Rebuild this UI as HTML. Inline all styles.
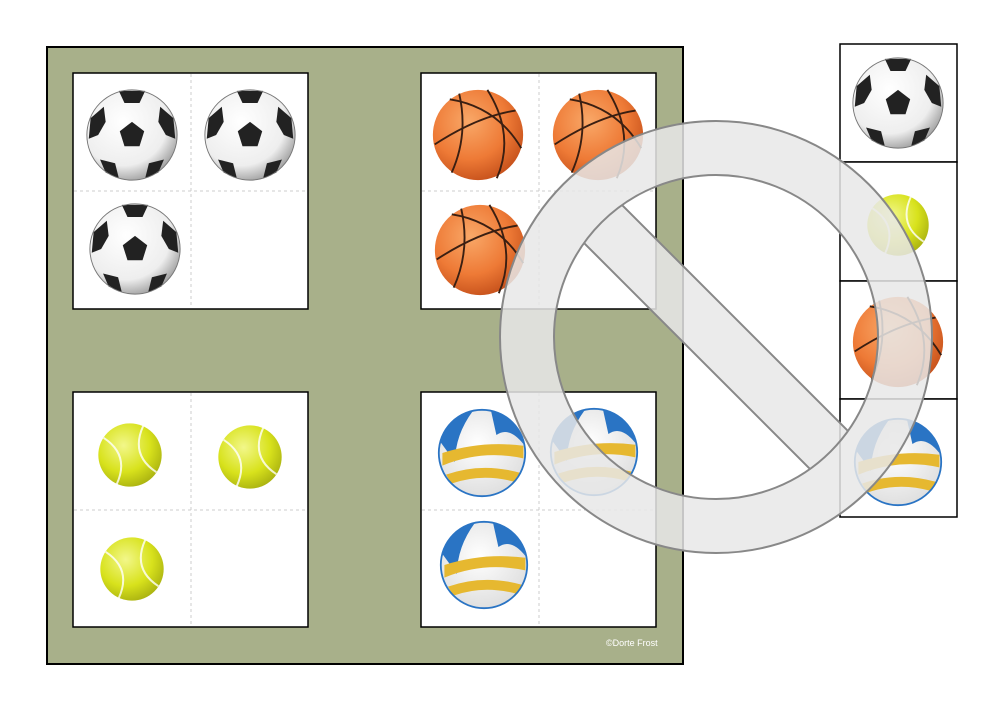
<!DOCTYPE html>
<html><head><meta charset="utf-8"><style>
html,body{margin:0;padding:0;background:#fff;width:1000px;height:707px;overflow:hidden;font-family:"Liberation Sans",sans-serif}
</style></head><body>
<svg width="1000" height="707" viewBox="0 0 1000 707" xmlns="http://www.w3.org/2000/svg">
<defs>
<radialGradient id="sg" cx="0.4" cy="0.35" r="0.7"><stop offset="0" stop-color="#fff"/><stop offset="0.7" stop-color="#eee"/><stop offset="1" stop-color="#999"/></radialGradient>
<radialGradient id="bg" cx="0.4" cy="0.35" r="0.7"><stop offset="0" stop-color="#f9a868"/><stop offset="0.6" stop-color="#ee7a36"/><stop offset="1" stop-color="#c44f1a"/></radialGradient>
<radialGradient id="tg" cx="0.4" cy="0.35" r="0.7"><stop offset="0" stop-color="#f2f78a"/><stop offset="0.6" stop-color="#d8e21c"/><stop offset="1" stop-color="#a8b010"/></radialGradient>
<radialGradient id="vg" cx="0.45" cy="0.4" r="0.65"><stop offset="0" stop-color="#fff"/><stop offset="1" stop-color="#ddd"/></radialGradient>
<symbol id="soccer" viewBox="-50 -50 100 100">
<circle r="48" fill="url(#sg)"/>
<polygon points="0,-14 13,-4 8,12 -8,12 -13,-4" fill="#222"/>
<polygon points="-14,-47 14,-47 8,-34 -8,-34" fill="#222"/>
<polygon points="30,-30 44,-18 46,4 36,0 28,-14" fill="#222"/>
<polygon points="-30,-30 -44,-18 -46,4 -36,0 -28,-14" fill="#222"/>
<polygon points="18,30 34,26 28,40 14,46" fill="#222"/>
<polygon points="-18,30 -34,26 -28,40 -14,46" fill="#222"/>
<circle r="48" fill="none" stroke="#777" stroke-width="1"/>
</symbol>
<symbol id="basket" viewBox="-50 -50 100 100">
<circle r="48" fill="url(#bg)"/>
<g fill="none" stroke="#3a1f12" stroke-width="2">
<path d="M-46,10 Q0,-20 40,-26"/><path d="M-20,-44 Q-10,0 -28,40"/><path d="M10,-48 Q40,0 20,46"/><path d="M-30,-38 Q20,-30 46,14"/>
</g></symbol>
<symbol id="tennis" viewBox="-50 -50 100 100">
<circle r="48" fill="url(#tg)"/>
<path d="M-40,-26 Q0,0 -20,44 M40,26 Q0,0 20,-44" fill="none" stroke="#fff" stroke-width="3" opacity="0.8"/>
</symbol>
<symbol id="volley" viewBox="-50 -50 100 100">
<circle r="48" fill="url(#vg)"/>
<path d="M-46,-12 Q-40,-40 -10,-47 Q-30,-20 -30,10 Z" fill="#2a74c4"/>
<path d="M10,-47 Q40,-40 46,-10 Q30,-30 16,-20 Z" fill="#2a74c4"/>
<path d="M-44,0 Q0,-14 46,-8 L46,6 Q0,-4 -44,14 Z" fill="#e6b830"/>
<path d="M-40,24 Q0,10 42,22 L36,32 Q0,22 -34,34 Z" fill="#e6b830"/>
<circle r="48" fill="none" stroke="#2a74c4" stroke-width="2"/>
</symbol>
<clipPath id="ic"><circle cx="716" cy="337" r="162"/></clipPath>
</defs>
<rect x="47" y="47" width="636" height="617" fill="#a8b08a" stroke="#000" stroke-width="2"/>
<g fill="#fff" stroke="#000" stroke-width="1.5">
<rect x="73" y="73" width="235" height="236"/><rect x="421" y="73" width="235" height="236"/>
<rect x="73" y="392" width="235" height="235"/><rect x="421" y="392" width="235" height="235"/>
</g>
<g stroke="#ccc" stroke-dasharray="3,3" stroke-width="1">
<path d="M191,74V308M74,191H307M539,74V308M422,191H655M191,393V626M74,510H307M539,393V626M422,510H655"/>
</g>
<g fill="#fff" stroke="#000" stroke-width="1.5">
<rect x="840" y="44" width="117" height="118"/><rect x="840" y="162" width="117" height="119"/>
<rect x="840" y="281" width="117" height="118"/><rect x="840" y="399" width="117" height="118"/>
</g>
<use href="#soccer" x="85" y="88" width="94" height="94"/>
<use href="#soccer" x="203" y="88" width="94" height="94"/>
<use href="#soccer" x="88" y="202" width="94" height="94"/>
<use href="#basket" x="431" y="88" width="94" height="94"/>
<use href="#basket" x="551" y="88" width="94" height="94"/>
<use href="#basket" x="433" y="203" width="94" height="94"/>
<use href="#tennis" x="97" y="422" width="66" height="66"/>
<use href="#tennis" x="217" y="424" width="66" height="66"/>
<use href="#tennis" x="99" y="536" width="66" height="66"/>
<use href="#volley" x="437" y="408" width="90" height="90"/>
<use href="#volley" x="549" y="407" width="90" height="90"/>
<use href="#volley" x="439" y="520" width="90" height="90"/>
<use href="#soccer" x="851" y="56" width="94" height="94"/>
<use href="#tennis" x="866" y="193" width="64" height="64"/>
<use href="#basket" x="851" y="295" width="94" height="94"/>
<use href="#volley" x="853" y="417" width="90" height="90"/>
<text x="606" y="646" font-size="9" fill="#fff" font-family="Liberation Sans, sans-serif">©Dorte Frost</text>
<g opacity="0.85">
<path d="M500,337a216,216 0 1,0 432,0a216,216 0 1,0 -432,0ZM554,337a162,162 0 1,0 324,0a162,162 0 1,0 -324,0Z" fill="#e8e8e8" fill-rule="evenodd"/>
<g clip-path="url(#ic)"><rect x="400" y="310" width="632" height="54" fill="#e8e8e8" transform="rotate(45 716 337)"/></g>
</g>
<g fill="none" stroke="#888" stroke-width="2">
<circle cx="716" cy="337" r="216"/><circle cx="716" cy="337" r="162"/>
<g clip-path="url(#ic)"><path d="M500,83L940,523M500,159L940,599"/></g>
</g>
</svg>
</body></html>
